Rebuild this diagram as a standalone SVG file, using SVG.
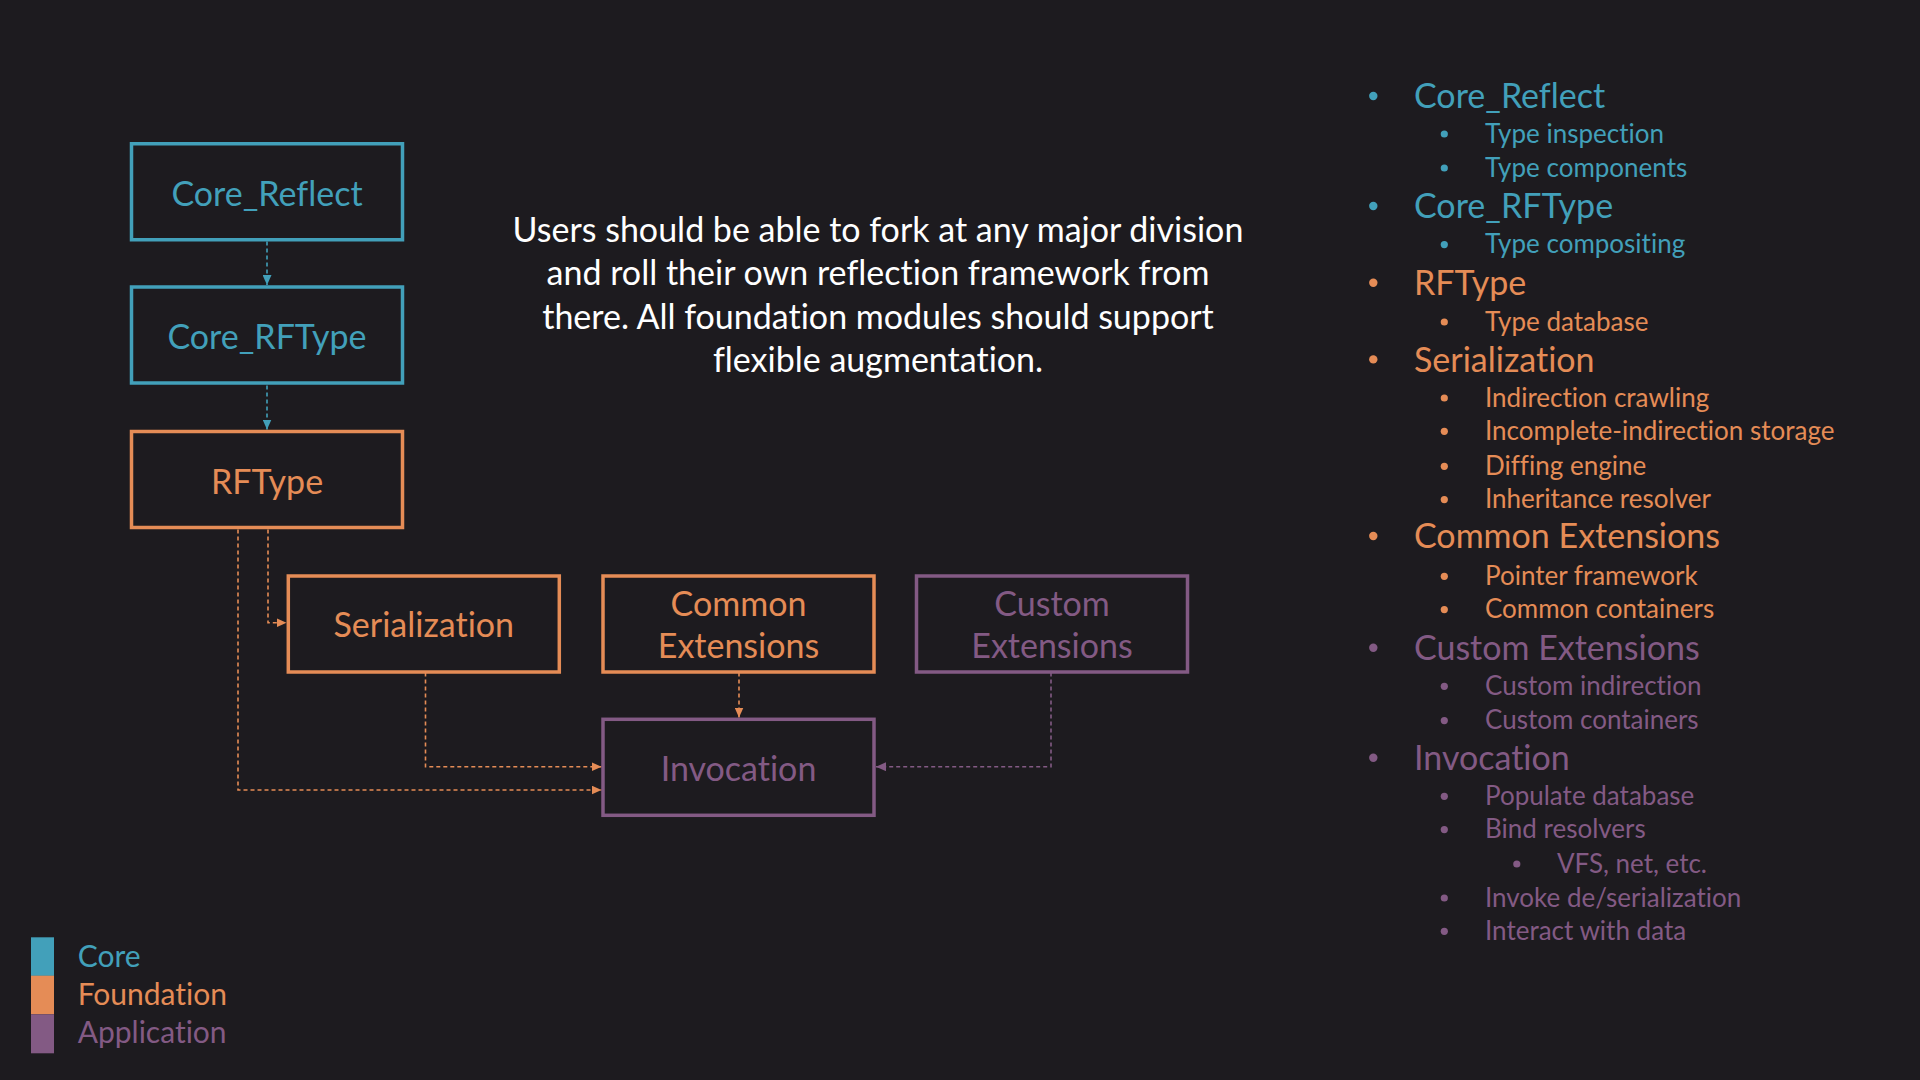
<svg xmlns="http://www.w3.org/2000/svg" width="1920" height="1080" viewBox="0 0 1920 1080">
<style>
.bg{fill:#1d1b1f}
.box{fill:none;stroke-width:3.5}
.teal{stroke:#42a0ba}
.orange{stroke:#e58c56}
.purple{stroke:#835a84}
text{font-family:Lato,"Open Sans","Liberation Sans",sans-serif;font-variant-ligatures:none;font-feature-settings:"liga" 0,"dlig" 0}
.lbl{font-size:34px;text-anchor:middle}
.tT{fill:#42a0ba}
.tO{fill:#e58c56}
.tP{fill:#835a84}
.main{font-size:34px;fill:#ffffff;text-anchor:middle}
.l1{font-size:34px}
.l2{font-size:26px}
.leg{font-size:30px}
.con{fill:none;stroke-width:1.6;stroke-dasharray:4 3}
</style>
<defs>
<marker id="aT" markerUnits="userSpaceOnUse" markerWidth="10" markerHeight="9" refX="10" refY="4.5" orient="auto"><path d="M0,0 L10,4.5 L0,9 z" fill="#42a0ba"/></marker>
<marker id="aO" markerUnits="userSpaceOnUse" markerWidth="10" markerHeight="9" refX="10" refY="4.5" orient="auto"><path d="M0,0 L10,4.5 L0,9 z" fill="#e58c56"/></marker>
<marker id="aP" markerUnits="userSpaceOnUse" markerWidth="10" markerHeight="9" refX="10" refY="4.5" orient="auto"><path d="M0,0 L10,4.5 L0,9 z" fill="#835a84"/></marker>
</defs>
<rect class="bg" x="0" y="0" width="1920" height="1080"/>

<g id="connectors">
<path class="con teal" d="M267 241.5 V285" marker-end="url(#aT)"/>
<path class="con teal" d="M267 385.5 V429.5" marker-end="url(#aT)"/>
<path class="con orange" d="M268 529.5 V622.7 H286.5" marker-end="url(#aO)"/>
<path class="con orange" d="M238 529.5 V790 H601.5" marker-end="url(#aO)"/>
<path class="con orange" d="M425.5 672.5 V766.7 H601.5" marker-end="url(#aO)"/>
<path class="con orange" d="M739 672.5 V717.5" marker-end="url(#aO)"/>
<path class="con purple" d="M1051 672.5 V766.7 H876" marker-end="url(#aP)"/>
</g>

<g id="core_reflect">
<rect class="box teal" x="131.5" y="143.75" width="271" height="96"/>
<text class="lbl tT" x="267" y="205.5">Core_Reflect</text>
</g>
<g id="core_rftype">
<rect class="box teal" x="131.5" y="287" width="271" height="96"/>
<text class="lbl tT" x="267" y="349">Core_RFType</text>
</g>
<g id="rftype">
<rect class="box orange" x="131.5" y="431.5" width="271" height="96"/>
<text class="lbl tO" x="267" y="493.5">RFType</text>
</g>
<g id="serialization">
<rect class="box orange" x="288.3" y="576" width="271" height="96"/>
<text class="lbl tO" x="423.8" y="637">Serialization</text>
</g>
<g id="common_extensions">
<rect class="box orange" x="603" y="576" width="271" height="96"/>
<text class="lbl tO" x="738.5" y="615.5">Common</text>
<text class="lbl tO" x="738.5" y="658">Extensions</text>
</g>
<g id="custom_extensions">
<rect class="box purple" x="916.5" y="576" width="271" height="96"/>
<text class="lbl tP" x="1052" y="615.5">Custom</text>
<text class="lbl tP" x="1052" y="658">Extensions</text>
</g>
<g id="invocation">
<rect class="box purple" x="603" y="719.3" width="271" height="96"/>
<text class="lbl tP" x="738.5" y="780.5">Invocation</text>
</g>

<g id="note">
<text class="main" x="878" y="242">Users should be able to fork at any major division</text>
<text class="main" x="878" y="285.3">and roll their own reflection framework from</text>
<text class="main" x="878" y="328.6">there. All foundation modules should support</text>
<text class="main" x="878" y="371.9">flexible augmentation.</text>
</g>

<g id="list">
<g class="tT">
<circle cx="1373.3" cy="96" r="4.2"/><text class="l1" x="1414" y="108.3">Core_Reflect</text>
<circle cx="1444.3" cy="134" r="3.6"/><text class="l2" x="1485" y="142.7">Type inspection</text>
<circle cx="1444.3" cy="168" r="3.6"/><text class="l2" x="1485" y="176.7">Type components</text>
<circle cx="1373.3" cy="206" r="4.2"/><text class="l1" x="1414" y="218.3">Core_RFType</text>
<circle cx="1444.3" cy="244.6" r="3.6"/><text class="l2" x="1485" y="253.3">Type compositing</text>
</g>
<g class="tO">
<circle cx="1373.3" cy="282.7" r="4.2"/><text class="l1" x="1414" y="295">RFType</text>
<circle cx="1444.3" cy="322" r="3.6"/><text class="l2" x="1485" y="330.7">Type database</text>
<circle cx="1373.3" cy="359.4" r="4.2"/><text class="l1" x="1414" y="371.7">Serialization</text>
<circle cx="1444.3" cy="398" r="3.6"/><text class="l2" x="1485" y="406.7">Indirection crawling</text>
<circle cx="1444.3" cy="431.3" r="3.6"/><text class="l2" x="1485" y="440">Incomplete-indirection storage</text>
<circle cx="1444.3" cy="466.3" r="3.6"/><text class="l2" x="1485" y="475">Diffing engine</text>
<circle cx="1444.3" cy="499.6" r="3.6"/><text class="l2" x="1485" y="508.3">Inheritance resolver</text>
<circle cx="1373.3" cy="536" r="4.2"/><text class="l1" x="1414" y="548.3">Common Extensions</text>
<circle cx="1444.3" cy="576.3" r="3.6"/><text class="l2" x="1485" y="585">Pointer framework</text>
<circle cx="1444.3" cy="609.6" r="3.6"/><text class="l2" x="1485" y="618.3">Common containers</text>
</g>
<g class="tP">
<circle cx="1373.3" cy="647.7" r="4.2"/><text class="l1" x="1414" y="660">Custom Extensions</text>
<circle cx="1444.3" cy="686.3" r="3.6"/><text class="l2" x="1485" y="695">Custom indirection</text>
<circle cx="1444.3" cy="720.6" r="3.6"/><text class="l2" x="1485" y="729.3">Custom containers</text>
<circle cx="1373.3" cy="757.7" r="4.2"/><text class="l1" x="1414" y="770">Invocation</text>
<circle cx="1444.3" cy="796.3" r="3.6"/><text class="l2" x="1485" y="805">Populate database</text>
<circle cx="1444.3" cy="829.6" r="3.6"/><text class="l2" x="1485" y="838.3">Bind resolvers</text>
<circle cx="1516.8" cy="864" r="3.6"/><text class="l2" x="1557" y="872.7">VFS, net, etc.</text>
<circle cx="1444.3" cy="898" r="3.6"/><text class="l2" x="1485" y="906.7">Invoke de/serialization</text>
<circle cx="1444.3" cy="931.3" r="3.6"/><text class="l2" x="1485" y="940">Interact with data</text>
</g>
</g>

<g id="legend">
<rect x="31" y="937.3" width="23" height="38.6" fill="#42a0ba"/>
<rect x="31" y="975.7" width="23" height="38.6" fill="#e58c56"/>
<rect x="31" y="1014.3" width="23" height="39" fill="#835a84"/>
<text class="leg tT" x="77.7" y="966.7">Core</text>
<text class="leg tO" x="77.7" y="1005">Foundation</text>
<text class="leg tP" x="77.7" y="1043.3">Application</text>
</g>
</svg>
